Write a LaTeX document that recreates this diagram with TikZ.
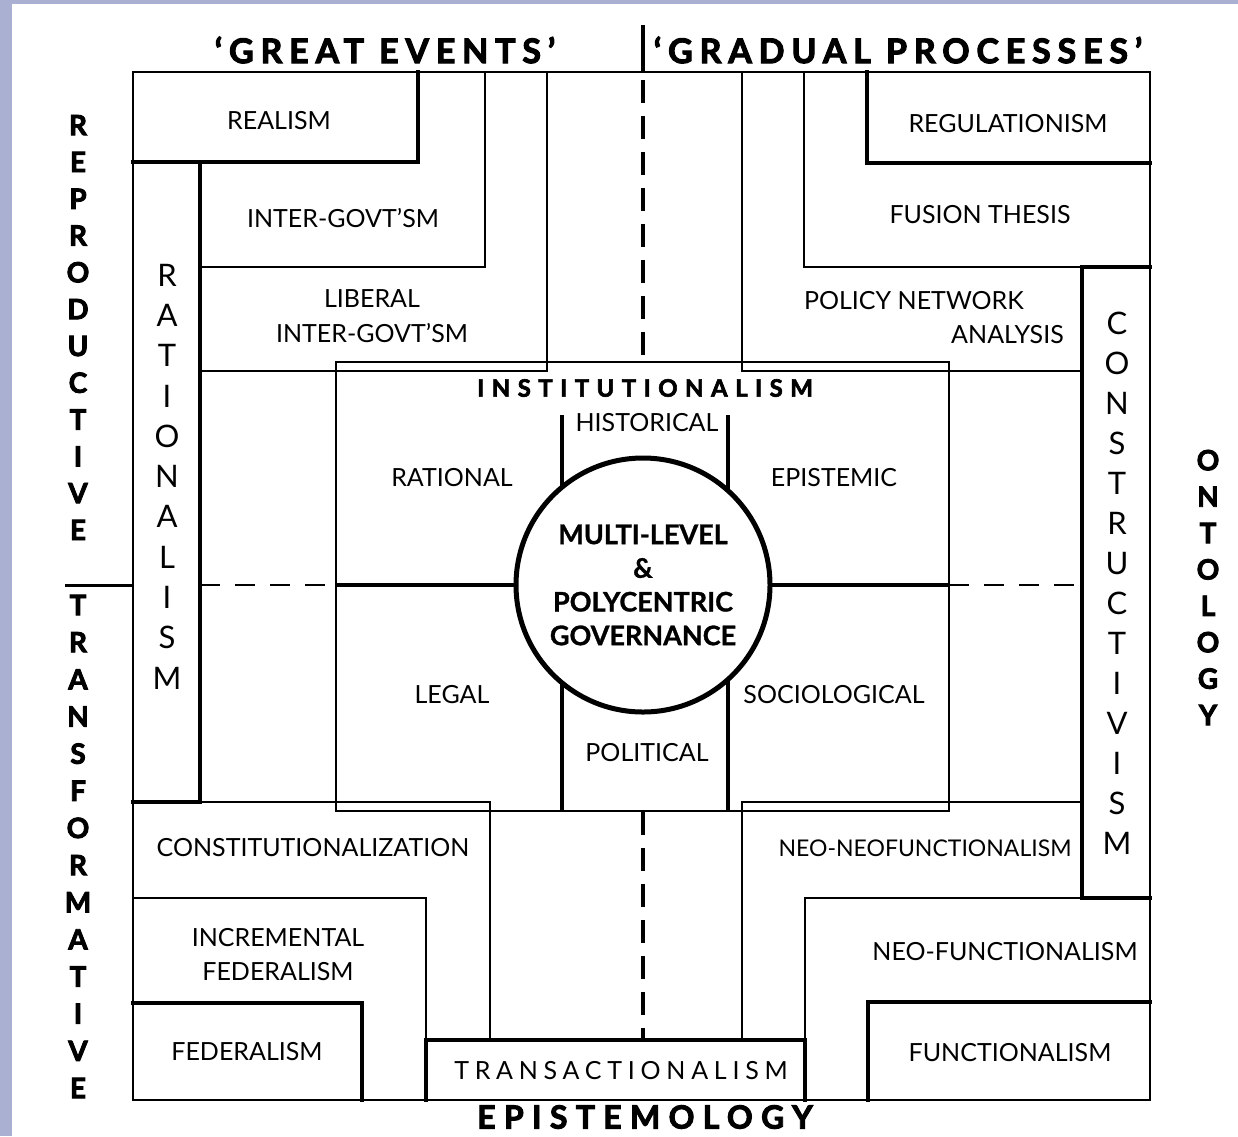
\documentclass[tikz,border=0pt]{standalone}
\usepackage{fontspec}
\setmainfont{Lato}
\newfontfamily\hdfont[LetterSpace=20, FakeBold=3]{Lato}
\newfontfamily\epfont[LetterSpace=26, FakeBold=3]{Lato}
\newfontfamily\instfont[LetterSpace=31, FakeBold=2.5]{Lato}
\newfontfamily\trfont[LetterSpace=23]{Lato}
\newfontfamily\heavyfont[FakeBold=3]{Lato}
\newfontfamily\mlgfont[FakeBold=1]{Lato}
\definecolor{frameblue}{RGB}{169,176,210}
\tikzset{
  thinline/.style={line width=2pt, line cap=rect},
  thickline/.style={line width=4.5pt, line join=miter, line cap=rect},
  midline/.style={line width=3.5pt},
  lbl/.style={inner sep=0pt, font=\fontsize{25}{34}\selectfont},
  vword/.style={inner sep=0pt, align=center},
  heading/.style={inner sep=0pt, font=\fontsize{34}{36}\selectfont\hdfont\bfseries},
}
\begin{document}
\begin{tikzpicture}[x=1pt,y=-1pt]
\useasboundingbox (0,0) rectangle (1238,1136);
\fill[white] (0,0) rectangle (1238,1136);
\fill[frameblue] (0,0) rectangle (12,1136);
\fill[frameblue] (0,0) rectangle (1238,4);

% centre vertical divider
\draw[midline] (643,25) -- (643,72);
\draw[midline, dash pattern=on 23pt off 13pt] (643,80) -- (643,362);
\draw[midline, dash pattern=on 23pt off 13pt] (643,812) -- (643,1040);

% outer square
\draw[thinline] (133,72) rectangle (1150,1100);

% top left
\draw[thickline] (133,162) -- (418,162) -- (418,72);
\draw[thickline] (200,162) -- (200,802) -- (133,802);
\draw[thinline] (200,267) -- (485,267) -- (485,72);
\draw[thinline] (200,371) -- (547,371) -- (547,72);
% top right
\draw[thickline] (1150,163) -- (867,163) -- (867,72);
\draw[thinline] (1082,267) -- (804,267) -- (804,72);
\draw[thinline] (1082,371) -- (742,371) -- (742,72);
\draw[thickline] (1150,267) -- (1082,267) -- (1082,898) -- (1150,898);
% institutionalism box
\draw[thinline] (336,362) rectangle (949,811);
% bottom left
\draw[thinline] (200,802) -- (490,802) -- (490,1040);
\draw[thinline] (133,898) -- (426,898) -- (426,1040);
\draw[thickline] (133,1003) -- (362,1003) -- (362,1100);
\draw[thickline] (426,1100) -- (426,1040) -- (805,1040) -- (805,1100);
% bottom right
\draw[thinline] (1082,802) -- (742,802) -- (742,1040);
\draw[thinline] (1082,898) -- (805,898) -- (805,1040);
\draw[thickline] (1150,1002) -- (868,1002) -- (868,1100);

% inner cross
\draw[thickline, line cap=butt] (562,415) -- (562,811);
\draw[thickline, line cap=butt] (728,415) -- (728,811);
\draw[line width=4pt] (336,585) -- (949,585);
\draw[thinline, line cap=butt, dash pattern=on 20pt off 15pt] (200,585) -- (336,585);
\draw[thinline, line cap=butt, dash pattern=on 20pt off 15pt] (949,585) -- (1082,585);
\draw[line width=3pt] (65,585) -- (133,585);

\node[circle, draw, fill=white, line width=5pt, minimum size=254pt, inner sep=0pt,
      align=center, font=\fontsize{27}{33.7}\selectfont\mlgfont\bfseries] (mlg) at (643,585)
      {MULTI-LEVEL\\\&\\POLYCENTRIC\\GOVERNANCE};

% headings
\node[heading] (great) at (385,50) {‘GREAT EVENTS’};
\node[heading] (gradual) at (898,50) {‘GRADUAL PROCESSES’};
\node[inner sep=0pt, font=\fontsize{32}{34}\selectfont\epfont\bfseries] (episte) at (645,1117) {EPISTEMOLOGY};
\node[inner sep=0pt, font=\fontsize{24}{26}\selectfont\instfont\bfseries] (inst) at (645,388) {INSTITUTIONALISM};

% side words
\node[vword, font=\fontsize{28}{36.8}\selectfont\heavyfont\bfseries] (repro) at (78,327.5)
  {R\\E\\P\\R\\O\\D\\U\\C\\T\\I\\V\\E};
\node[vword, font=\fontsize{28}{37.15}\selectfont\heavyfont\bfseries] (transf) at (78,846.5)
  {T\\R\\A\\N\\S\\F\\O\\R\\M\\A\\T\\I\\V\\E};
\node[vword, font=\fontsize{28}{36.4}\selectfont\heavyfont\bfseries] (onto) at (1208,587.5)
  {O\\N\\T\\O\\L\\O\\G\\Y};
\node[vword, font=\fontsize{31}{40.3}\selectfont] (ratio) at (167,476.5)
  {R\\A\\T\\I\\O\\N\\A\\L\\I\\S\\M};
\node[vword, font=\fontsize{31}{40}\selectfont] (constr) at (1117,583)
  {C\\O\\N\\S\\T\\R\\U\\C\\T\\I\\V\\I\\S\\M};

% labels
\node[lbl] (realism) at (279,121) {REALISM};
\node[lbl] (intgov) at (343,218) {INTER-GOVT’SM};
\node[lbl] (lib1) at (372,299) {LIBERAL};
\node[lbl] (lib2) at (372,333) {INTER-GOVT’SM};
\node[lbl] (regul) at (1008,124) {REGULATIONISM};
\node[lbl] (fusion) at (980,215) {FUSION THESIS};
\node[lbl, anchor=east] (pna1) at (1024,301) {POLICY NETWORK};
\node[lbl, anchor=east] (pna2) at (1064,335) {ANALYSIS};
\node[lbl] (histor) at (647,423) {HISTORICAL};
\node[lbl] (ration) at (452,478) {RATIONAL};
\node[lbl] (episte2) at (834,478) {EPISTEMIC};
\node[lbl] (legal) at (452,695) {LEGAL};
\node[lbl] (socio) at (834,695) {SOCIOLOGICAL};
\node[lbl] (polit) at (647,753) {POLITICAL};
\node[lbl] (constit) at (313,848) {CONSTITUTIONALIZATION};
\node[lbl] (incr1) at (278,938) {INCREMENTAL};
\node[lbl] (incr2) at (278,972) {FEDERALISM};
\node[lbl] (feder) at (247,1052) {FEDERALISM};
\node[inner sep=0pt, font=\fontsize{25}{28}\selectfont\trfont] (transac) at (621,1071) {TRANSACTIONALISM};
\node[lbl, font=\fontsize{23}{28}\selectfont] (neoneo) at (925,848) {NEO-NEOFUNCTIONALISM};
\node[lbl] (neofun) at (1005,952) {NEO-FUNCTIONALISM};
\node[lbl] (funct) at (1010,1053) {FUNCTIONALISM};
\end{tikzpicture}
\end{document}
